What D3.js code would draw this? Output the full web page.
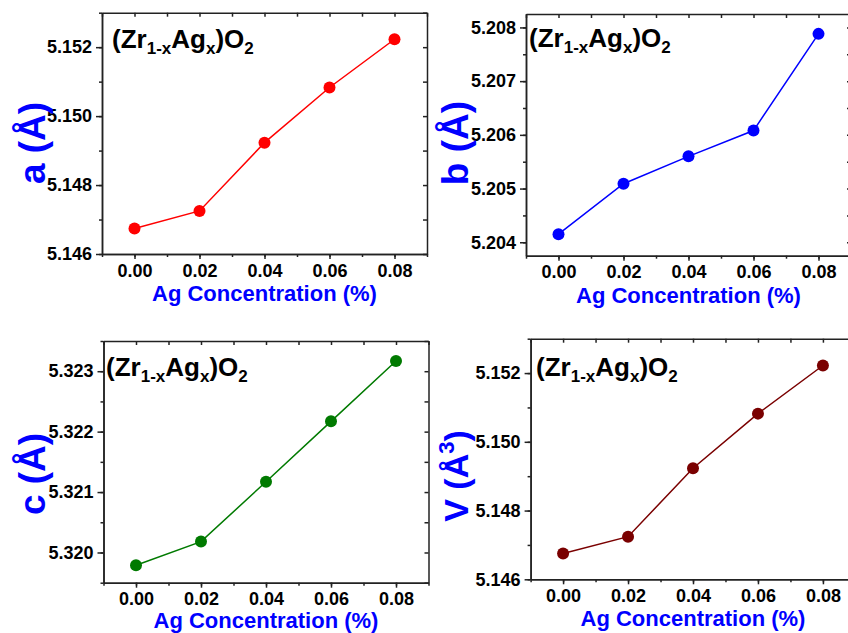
<!DOCTYPE html>
<html>
<head>
  <meta charset="utf-8">
  <title>(Zr1-xAgx)O2 lattice parameters</title>
  <script src="https://cdn.jsdelivr.net/npm/d3@7"></script>
  <style>
    body { margin: 0; background: #fff; }
    svg { display: block; font-family: Arial, "Liberation Sans", sans-serif; }
    .axis text { font-size: 18px; font-weight: bold; fill: #000; }
    .axis path, .axis line { stroke: #222; stroke-width: 1.5px; }
    .ylab, .xlab { fill: #0000ff; font-weight: bold; }
    .title { font-weight: bold; fill: #000; }
  </style>
</head>
<body>
<script>
  // data
  var conc = [0.00, 0.02, 0.04, 0.06, 0.08];
  var aVals = [5.14674, 5.14725, 5.14923, 5.15083, 5.15223];
  var bVals = [5.20415, 5.20509, 5.20560, 5.20608, 5.20788];
  var cVals = [5.31979, 5.32018, 5.32117, 5.32217, 5.32317];
  var vVals = [5.14675, 5.14724, 5.14923, 5.15082, 5.15222];
  var xTicks = [0.00, 0.02, 0.04, 0.06, 0.08];
  var aTicks = [5.146, 5.148, 5.150, 5.152];
  var bTicks = [5.204, 5.205, 5.206, 5.207, 5.208];
  var cTicks = [5.320, 5.321, 5.322, 5.323];

  var W = 848, H = 633;
  var svg = d3.select('body').append('svg').attr('width', W).attr('height', H);

  // panel layout
  var panels = [
    { vals: aVals, ticks: aTicks, ydom: [5.146, 5.153], minor: 0.001, color: '#ff0000', label: 'a',
      l: 102, r: 427, t: 12.7, b: 254, tx: 112, ty: 48, lx: 45, ly: 143 },
    { vals: bVals, ticks: bTicks, ydom: [5.20375, 5.20825], minor: 0.0005, color: '#0000ff', label: 'b',
      l: 526, r: 851, t: 14, b: 255.7, tx: 529, ty: 47, lx: 468, ly: 143 },
    { vals: cVals, ticks: cTicks, ydom: [5.3195, 5.3235], minor: 0.0005, color: '#007a00', label: 'c',
      l: 103.5, r: 428.5, t: 341, b: 582.7, tx: 106, ty: 376, lx: 45, ly: 474 },
    { vals: vVals, ticks: aTicks, ydom: [5.146, 5.153], minor: 0.001, color: '#7a0000', label: 'V',
      l: 530.6, r: 855.4, t: 338.7, b: 579.3, tx: 536, ty: 376, lx: 468, ly: 476, cube: true }
  ];

  panels.forEach(function (p) {
    var x = d3.scaleLinear().domain([-0.01, 0.09]).range([p.l, p.r]);
    var y = d3.scaleLinear().domain(p.ydom).range([p.b, p.t]);
    var yMinor = d3.range(Math.round(p.ydom[0] / p.minor), Math.round(p.ydom[1] / p.minor) + 1)
      .map(function (k) { return k * p.minor; });
    var xMinor = d3.range(-1, 10).map(function (k) { return k / 100; });

    var g = svg.append('g');

    // minor ticks
    g.append('g').attr('class', 'axis').attr('transform', 'translate(0,' + p.b + ')')
      .call(d3.axisBottom(x).tickValues(xMinor).tickSize(3).tickSizeOuter(0).tickFormat(''));
    g.append('g').attr('class', 'axis').attr('transform', 'translate(' + p.l + ',0)')
      .call(d3.axisLeft(y).tickValues(yMinor).tickSize(3).tickSizeOuter(0).tickFormat(''));
    // mirror spines with inward ticks
    g.append('g').attr('class', 'axis').attr('transform', 'translate(0,' + p.t + ')')
      .call(d3.axisBottom(x).tickValues(xMinor).tickSize(4).tickSizeOuter(0).tickFormat(''));
    g.append('g').attr('class', 'axis').attr('transform', 'translate(' + p.r + ',0)')
      .call(d3.axisLeft(y).tickValues(yMinor).tickSize(4).tickSizeOuter(0).tickFormat(''));

    // major axes
    g.append('g').attr('class', 'axis').attr('transform', 'translate(0,' + p.b + ')')
      .call(d3.axisBottom(x).tickValues(xTicks).tickSize(5).tickSizeOuter(0).tickPadding(5)
        .tickFormat(d3.format('.2f')));
    g.append('g').attr('class', 'axis').attr('transform', 'translate(' + p.l + ',0)')
      .call(d3.axisLeft(y).tickValues(p.ticks).tickSize(6).tickSizeOuter(0).tickPadding(4)
        .tickFormat(d3.format('.3f')));

    // line + markers
    var pts = conc.map(function (c, i) { return [c, p.vals[i]]; });
    g.append('path')
      .attr('d', d3.line().x(function (d) { return x(d[0]); }).y(function (d) { return y(d[1]); })(pts))
      .attr('fill', 'none').attr('stroke', p.color).attr('stroke-width', 1.5);
    g.selectAll('circle.pt').data(pts).join('circle')
      .attr('class', 'pt')
      .attr('cx', function (d) { return x(d[0]); })
      .attr('cy', function (d) { return y(d[1]); })
      .attr('r', 6).attr('fill', p.color);

    // formula title
    var t = g.append('text').attr('class', 'title').attr('x', p.tx).attr('y', p.ty).style('font-size', '26px');
    t.append('tspan').text('(Zr');
    t.append('tspan').text('1-x').style('font-size', '17px').attr('dy', 6);
    t.append('tspan').text('Ag').attr('dy', -6);
    t.append('tspan').text('x').style('font-size', '17px').attr('dy', 6);
    t.append('tspan').text(')O').attr('dy', -6);
    t.append('tspan').text('2').style('font-size', '17px').attr('dy', 6);

    // y label
    var yl = g.append('text').attr('class', 'ylab')
      .attr('transform', 'translate(' + p.lx + ',' + p.ly + ') rotate(-90)')
      .attr('text-anchor', 'middle').style('font-size', p.cube ? '34px' : '37px');
    if (p.cube) {
      yl.append('tspan').text(p.label + ' (Å');
      yl.append('tspan').text('3').style('font-size', '22px').attr('dy', -14);
      yl.append('tspan').text(')').attr('dy', 14);
    } else {
      yl.text(p.label + ' (Å)');
    }

    // x label
    g.append('text').attr('class', 'xlab')
      .attr('x', (x(-0.01) + x(0.09)) / 2).attr('y', Math.min(p.b + 47, 628))
      .attr('text-anchor', 'middle').style('font-size', '22px')
      .text('Ag Concentration (%)');
  });
</script>
</body>
</html>
